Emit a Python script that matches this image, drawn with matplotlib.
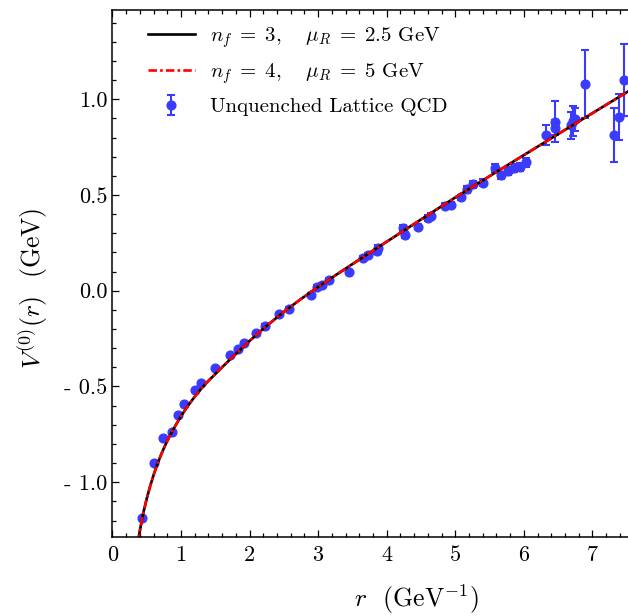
import matplotlib
matplotlib.use('Agg')
import matplotlib.pyplot as plt
import numpy as np

# theory curve (both n_f lines coincide)
curve_r = [0.37, 0.383, 0.40, 0.45, 0.50, 0.55, 0.60, 0.65, 0.70, 0.75, 0.80, 0.85,
           0.90, 0.95, 1.00, 1.10, 1.20, 1.30, 1.40, 1.50, 1.60, 1.70, 1.80, 1.90,
           2.00, 2.25, 2.50, 2.75, 3.00, 3.25, 3.50, 4.00, 4.50, 5.00, 5.50, 6.00,
           6.50, 7.00, 7.50, 7.60]
curve_v = [-1.315, -1.286, -1.252, -1.160, -1.085, -1.020, -0.962, -0.910, -0.864,
           -0.822, -0.784, -0.749, -0.716, -0.685, -0.655, -0.601, -0.553, -0.509,
           -0.470, -0.435, -0.399, -0.364, -0.330, -0.296, -0.262, -0.183, -0.110,
           -0.043, 0.020, 0.080, 0.139, 0.256, 0.372, 0.487, 0.598, 0.708, 0.818,
           0.927, 1.036, 1.058]

# unquenched lattice QCD points
lat_r = [0.424, 0.61, 0.74, 0.866, 0.958, 1.05, 1.21, 1.287, 1.49, 1.716, 1.833,
         1.923, 2.10, 2.225, 2.425, 2.58, 2.897, 2.99, 3.05, 3.163, 3.45, 3.658,
         3.731, 3.862, 3.877, 4.24, 4.265, 4.45, 4.605, 4.653, 4.847, 4.944, 5.08,
         5.165, 5.26, 5.405, 5.575, 5.672, 5.769, 5.86, 5.94, 6.026, 6.327, 6.458,
         6.458, 6.69, 6.716, 6.74, 6.895, 7.31, 7.385, 7.457]
lat_v = [-1.186, -0.90, -0.767, -0.738, -0.650, -0.591, -0.517, -0.484, -0.406,
         -0.334, -0.304, -0.272, -0.222, -0.182, -0.124, -0.093, -0.023, 0.018,
         0.031, 0.054, 0.099, 0.170, 0.187, 0.205, 0.222, 0.327, 0.29, 0.335,
         0.380, 0.389, 0.445, 0.450, 0.487, 0.530, 0.555, 0.564, 0.642, 0.602,
         0.625, 0.640, 0.647, 0.670, 0.813, 0.883, 0.852, 0.864, 0.886, 0.895,
         1.079, 0.811, 0.907, 1.099]
lat_err = [0.005, 0.005, 0.005, 0.005, 0.005, 0.005, 0.005, 0.005, 0.005, 0.005,
           0.005, 0.005, 0.008, 0.008, 0.008, 0.008, 0.01, 0.01, 0.01, 0.01, 0.01,
           0.012, 0.012, 0.015, 0.015, 0.015, 0.015, 0.015, 0.015, 0.015, 0.015,
           0.015, 0.015, 0.018, 0.018, 0.018, 0.02, 0.02, 0.02, 0.022, 0.022, 0.022,
           0.05, 0.107, 0.04, 0.07, 0.077, 0.06, 0.177, 0.141, 0.122, 0.187]

plt.rcParams['font.family'] = 'cmr10'
plt.rcParams['mathtext.fontset'] = 'cm'
plt.rcParams['axes.unicode_minus'] = False

fig = plt.figure(figsize=(6.28, 6.16), dpi=100)
ax = fig.add_axes([0.1791, 0.1282, 0.8209, 0.8556])

ax.plot(curve_r, curve_v, color='black', lw=1.9,
        label=r'$n_f\;=\;3,\quad\,\mu_R\;=\;2.5$ GeV')
ax.plot(curve_r, curve_v, color='red', lw=1.9, dashes=(3.2, 1.2, 1, 1.2),
        label=r'$n_f\;=\;4,\quad\,\mu_R\;=\;5$ GeV')
ax.errorbar(lat_r, lat_v, yerr=lat_err, fmt='o', color='#3b3bff', ms=6.3,
            elinewidth=1.5, capsize=3.2, capthick=1.5, label='Unquenched Lattice QCD',
            zorder=1)

ax.set_xlim(0, 7.52)
ax.set_ylim(-1.286, 1.466)
ax.set_xticks(np.arange(0, 8, 1))
ax.set_xticks(np.arange(0, 7.6, 0.2), minor=True)
ax.set_xticklabels([str(i) for i in range(8)])
ax.set_yticks([-1.0, -0.5, 0.0, 0.5, 1.0])
ax.set_yticklabels(['- 1.0', '- 0.5', '0.0', '0.5', '1.0'])
ax.set_yticks(np.arange(-1.2, 1.45, 0.1), minor=True)
ax.tick_params(which='both', direction='in', top=True, right=False, width=0.9,
               labelsize=16)
ax.tick_params(which='major', length=5)
ax.tick_params(axis='x', which='major', pad=6)
ax.tick_params(axis='y', which='major', pad=3.5)
ax.tick_params(which='minor', length=3)
ax.spines['right'].set_visible(False)
for s in ['left', 'bottom', 'top']:
    ax.spines[s].set_linewidth(1.1)

ax.set_xlabel(r'$r$  (GeV$^{-1}$)', fontsize=18.5)
ax.xaxis.set_label_coords(0.589, -0.086)
ax.set_ylabel(r'$V^{(0)}(r)$  (GeV)', fontsize=18.5)
ax.yaxis.set_label_coords(-0.122, 0.471)

ax.legend(loc='upper left', bbox_to_anchor=(0.069, 0.971), frameon=False,
          fontsize=15, handlelength=2.25, handletextpad=0.7, labelspacing=0.55,
          borderpad=0, borderaxespad=0)

plt.savefig('out.png', dpi=100)
